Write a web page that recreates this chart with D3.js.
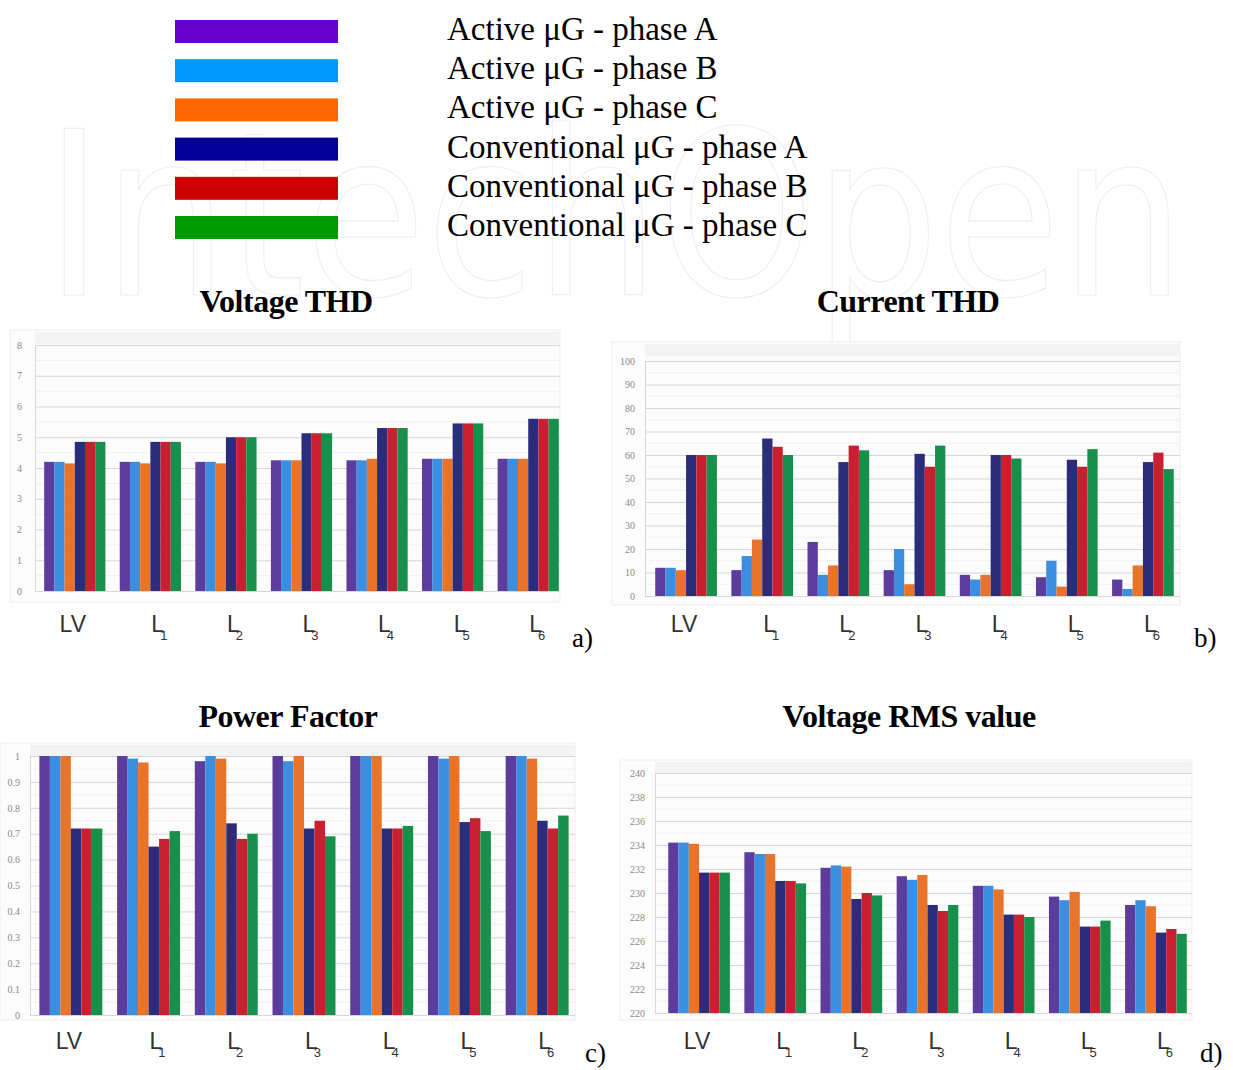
<!DOCTYPE html>
<html>
<head>
<meta charset="utf-8">
<script src="https://cdn.jsdelivr.net/npm/d3@7"></script>
<style>
  body { margin: 0; background: #fff; }
  svg { display: block; }
</style>
</head>
<body>
<script>

// categories along every x axis
var categories = ["LV", "L1", "L2", "L3", "L4", "L5", "L6"];

// the six series (one bar per series in every group)
var seriesNames = [
	"Active \u03bcG - phase A",
	"Active \u03bcG - phase B",
	"Active \u03bcG - phase C",
	"Conventional \u03bcG - phase A",
	"Conventional \u03bcG - phase B",
	"Conventional \u03bcG - phase C"
];
var legendColors = ["#6600cc", "#0099ff", "#ff6600", "#000099", "#cc0000", "#009900"];
var barColors = ["#5c3c9c", "#3c8ee0", "#e8742c", "#2c2c7c", "#c82030", "#18904c"];

// values, one row per category, one column per series
var voltageThd = [
	[4.2, 4.2, 4.15, 4.85, 4.85, 4.85],
	[4.2, 4.2, 4.15, 4.85, 4.85, 4.85],
	[4.2, 4.2, 4.15, 5.0, 5.0, 5.0],
	[4.25, 4.25, 4.25, 5.13, 5.13, 5.13],
	[4.25, 4.25, 4.3, 5.3, 5.3, 5.3],
	[4.3, 4.3, 4.3, 5.45, 5.45, 5.45],
	[4.3, 4.3, 4.3, 5.6, 5.6, 5.6]
];
var currentThd = [
	[12, 12, 11, 60, 60, 60],
	[11, 17, 24, 67, 63.5, 60],
	[23, 9, 13, 57, 64, 62],
	[11, 20, 5, 60.5, 55, 64],
	[9, 7, 9, 60, 60, 58.5],
	[8, 15, 4, 58, 55, 62.5],
	[7, 3, 13, 57, 61, 54]
];
var powerFactor = [
	[1, 1, 1, 0.72, 0.72, 0.72],
	[1, 0.99, 0.975, 0.65, 0.68, 0.71],
	[0.98, 1, 0.99, 0.74, 0.68, 0.70],
	[1, 0.98, 1, 0.72, 0.75, 0.69],
	[1, 1, 1, 0.72, 0.72, 0.73],
	[1, 0.99, 1, 0.745, 0.76, 0.71],
	[1, 1, 0.99, 0.75, 0.72, 0.77]
];
var voltageRms = [
	[234.2, 234.2, 234.1, 231.7, 231.7, 231.7],
	[233.4, 233.25, 233.25, 231.0, 231.0, 230.8],
	[232.1, 232.3, 232.2, 229.5, 230.0, 229.8],
	[231.4, 231.1, 231.5, 229.0, 228.5, 229.0],
	[230.6, 230.6, 230.3, 228.2, 228.2, 228.0],
	[229.7, 229.4, 230.1, 227.2, 227.2, 227.7],
	[229.0, 229.4, 228.9, 226.7, 227.0, 226.6]
];

// tick values per panel
var voltageThdTicks = d3.range(0, 9, 1);
var currentThdTicks = d3.range(0, 101, 10);
var powerFactorTicks = d3.range(0, 11, 1).map(function(d) { return d / 10; });
var voltageRmsTicks = d3.range(220, 241, 2);

var width = 1233,
	height = 1070;

var svg = d3.select("body").append("svg")
	.attr("width", width)
	.attr("height", height);

// faint watermark behind the legend
svg.append("text")
	.attr("x", 45)
	.attr("y", 295)
	.attr("textLength", 1140)
	.attr("lengthAdjust", "spacingAndGlyphs")
	.attr("font-family", "DejaVu Sans")
	.attr("font-size", 228)
	.attr("fill", "none")
	.attr("stroke", "#efefef")
	.attr("stroke-width", 1.2)
	.text("IntechOpen");

// legend
var legend = svg.append("g");
seriesNames.forEach(function(name, i) {
	var y = 20 + i * 39.2;
	legend.append("rect")
		.attr("x", 175)
		.attr("y", y)
		.attr("width", 163)
		.attr("height", 23)
		.attr("fill", legendColors[i]);
	legend.append("text")
		.attr("x", 447)
		.attr("y", y + 20)
		.attr("font-family", "Liberation Serif")
		.attr("font-size", 33)
		.attr("fill", "#000")
		.text(name);
});

// panel layout
var panels = [
	{ title: "Voltage THD", tag: "a)", data: voltageThd, ticks: voltageThdTicks, fmt: d3.format("d"),
		domain: [0, 8], yRange: [591, 345], xRange: [37, 566], axisX: 35, gridRight: 560,
		frame: [10, 330, 550, 272], tickX: 22, titleX: 286, titleY: 312, labelY: 632, tagX: 572, tagY: 647 },
	{ title: "Current THD", tag: "b)", data: currentThd, ticks: currentThdTicks, fmt: d3.format("d"),
		domain: [0, 100], yRange: [596, 361], xRange: [648, 1181], axisX: 645, gridRight: 1180,
		frame: [612, 342, 568, 263], tickX: 635, titleX: 908, titleY: 312, labelY: 632, tagX: 1194, tagY: 647 },
	{ title: "Power Factor", tag: "c)", data: powerFactor, ticks: powerFactorTicks, fmt: function(d) { return d === 0 || d === 1 ? String(d) : d3.format(".1f")(d); },
		domain: [0, 1], yRange: [1015, 756], xRange: [32, 576], axisX: 30, gridRight: 575,
		frame: [0, 743, 575, 277], tickX: 20, titleX: 288, titleY: 727, labelY: 1049, tagX: 585, tagY: 1062 },
	{ title: "Voltage RMS value", tag: "d)", data: voltageRms, ticks: voltageRmsTicks, fmt: d3.format("d"),
		domain: [220, 240], yRange: [1013, 773], xRange: [661, 1194], axisX: 655, gridRight: 1192,
		frame: [620, 760, 572, 260], tickX: 645, titleX: 909, titleY: 727, labelY: 1049, tagX: 1200, tagY: 1062 }
];

panels.forEach(function(p) {
	var g = svg.append("g");

	var y = d3.scaleLinear().domain(p.domain).range(p.yRange);
	var x0 = d3.scaleBand().domain(categories).range(p.xRange).paddingInner(0.19).paddingOuter(0.095);
	var x1 = d3.scaleBand().domain(d3.range(seriesNames.length)).range([0, x0.bandwidth()]);

	// chart background
	g.append("rect")
		.attr("x", p.frame[0]).attr("y", p.frame[1])
		.attr("width", p.frame[2]).attr("height", p.frame[3])
		.attr("fill", "#fcfcfc")
		.attr("stroke", "#ededed");
	g.append("rect")
		.attr("x", p.axisX).attr("y", p.frame[1] + 2)
		.attr("width", p.gridRight - p.axisX).attr("height", 12)
		.attr("fill", "#f3f3f3");

	// minor gridlines halfway between ticks
	var step = p.ticks[1] - p.ticks[0];
	g.selectAll(".minor")
		.data(p.ticks.slice(0, -1))
		.enter().append("line")
		.attr("x1", p.axisX).attr("x2", p.gridRight)
		.attr("y1", function(d) { return y(d + step / 2); })
		.attr("y2", function(d) { return y(d + step / 2); })
		.attr("stroke", "#f0f0f0");

	// y axis with full-width gridlines
	var yAxis = d3.axisLeft(y)
		.tickValues(p.ticks)
		.tickFormat(p.fmt)
		.tickSize(-(p.gridRight - p.axisX))
		.tickPadding(p.axisX - p.tickX);

	var ga = g.append("g")
		.attr("transform", "translate(" + p.axisX + ",0)")
		.call(yAxis);
	ga.select(".domain").attr("stroke", "#d8d8d8");
	ga.selectAll(".tick line").attr("stroke", "#d6d6d6");
	ga.selectAll(".tick text")
		.attr("font-family", "Liberation Serif")
		.attr("font-size", 10)
		.attr("fill", "#888");

	// bars
	g.selectAll(".group")
		.data(p.data)
		.enter().append("g")
		.attr("transform", function(d, i) { return "translate(" + x0(categories[i]) + ",0)"; })
		.selectAll("rect")
		.data(function(d) { return d; })
		.enter().append("rect")
		.attr("x", function(d, j) { return x1(j); })
		.attr("width", x1.bandwidth())
		.attr("y", function(d) { return y(d); })
		.attr("height", function(d) { return y(p.domain[0]) - y(d); })
		.attr("fill", function(d, j) { return barColors[j]; });

	// category labels, L with a subscript digit
	categories.forEach(function(c) {
		var cx = x0(c) + x0.bandwidth() / 2;
		var t = g.append("text")
			.attr("y", p.labelY)
			.attr("font-family", "Liberation Sans")
			.attr("font-size", 23)
			.attr("fill", "#333");
		if (c === "LV") {
			t.attr("x", cx - 2).attr("text-anchor", "middle").text("LV");
		} else {
			t.attr("x", cx + 1);
			t.append("tspan").text(c[0]);
			t.append("tspan")
				.attr("dx", -4)
				.attr("dy", 8)
				.attr("font-size", 13)
				.text(c.slice(1));
		}
	});

	// title and panel tag
	svg.append("text")
		.attr("x", p.titleX)
		.attr("y", p.titleY)
		.attr("text-anchor", "middle")
		.attr("font-family", "Liberation Serif")
		.attr("font-weight", "bold")
		.attr("font-size", 32)
		.attr("letter-spacing", -0.5)
		.text(p.title);

	svg.append("text")
		.attr("x", p.tagX)
		.attr("y", p.tagY)
		.attr("font-family", "Liberation Serif")
		.attr("font-size", 27)
		.text(p.tag);
});

</script>
</body>
</html>
